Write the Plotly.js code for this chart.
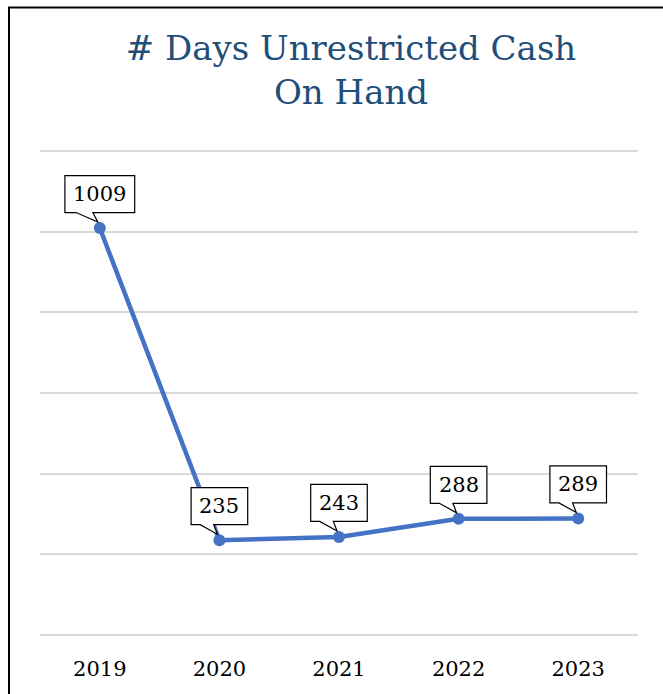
<!DOCTYPE html>
<html>
<head>
<meta charset="utf-8">
<script src="https://cdn.plot.ly/plotly-3.0.1.min.js"></script>
<style>html,body{margin:0;padding:0;background:#fff;}#chart{width:663px;height:694px;}</style>
</head>
<body>
<div id="chart"></div>
<script>
const years = ["2019", "2020", "2021", "2022", "2023"];
const cashDays = [1009, 235, 243, 288, 289];
const labels = ["1009", "235", "243", "288", "289"];
const yTicks = [0, 200, 400, 600, 800, 1000, 1200];

const W = 663, H = 694;
const M = {l: 40, r: 25, t: 147, b: 55};
const serif = '"DejaVu Serif", "Liberation Serif", serif';

const trace = {
  type: 'scatter', mode: 'lines+markers',
  x: years.map((_, i) => i), y: cashDays,
  line: {color: '#4472C4', width: 4.5},
  marker: {color: '#4472C4', size: 12},
  hoverinfo: 'skip', cliponaxis: false
};

const shapes = [];
const annotations = [];
const B = 15.5, T = 52.5;
labels.forEach((lab, i) => {
  const hw = 8.5 + lab.length * 6.6;
  const xl = -0.68 * hw, xr = -0.2 * hw;
  const path = `M ${-hw} ${B} L ${xl} ${B} L -2 6 L ${xr} ${B} L ${hw} ${B} L ${hw} ${T} L ${-hw} ${T} Z`;
  shapes.push({
    type: 'path', layer: 'above',
    xref: 'x', yref: 'y', xsizemode: 'pixel', ysizemode: 'pixel',
    xanchor: i, yanchor: cashDays[i], path: path,
    fillcolor: '#ffffff', line: {color: '#000000', width: 1.2}
  });
  annotations.push({
    x: i, y: cashDays[i], xref: 'x', yref: 'y', text: lab, showarrow: false,
    yshift: (B + T) / 2, font: {family: serif, size: 21, color: '#000'}
  });
});

// outer chart border (partly cropped)
const pw = W - M.l - M.r, ph = H - M.t - M.b;
shapes.push({
  type: 'rect', xref: 'paper', yref: 'paper', layer: 'above',
  x0: (9 - M.l) / pw, x1: (700 - M.l) / pw,
  y0: -(H + 20 - (H - M.b)) / ph, y1: ((H - M.b) - 7.5) / ph,
  line: {color: '#000000', width: 2}, fillcolor: 'rgba(0,0,0,0)'
});

const layout = {
  width: W, height: H,
  margin: M,
  paper_bgcolor: '#ffffff', plot_bgcolor: '#ffffff',
  showlegend: false,
  title: {
    text: '# Days Unrestricted Cash<br>On Hand',
    font: {family: serif, size: 34, color: '#1F4E79'},
    xref: 'container', x: 351 / W, xanchor: 'center',
    yref: 'container', y: 1 - 60 / H, yanchor: 'top'
  },
  xaxis: {
    range: [-0.5, 4.5], tickmode: 'array', tickvals: years.map((_, i) => i), ticktext: years,
    showgrid: false, zeroline: false, showline: false, ticks: '',
    ticklabelstandoff: 15,
    tickfont: {family: serif, size: 21, color: '#000'}, fixedrange: true
  },
  yaxis: {
    range: [-10, 1210], tickmode: 'array', tickvals: yTicks, showticklabels: false,
    showgrid: true, gridcolor: '#D9D9D9', gridwidth: 2,
    zeroline: false, showline: false, ticks: '', fixedrange: true
  },
  shapes: shapes,
  annotations: annotations
};

Plotly.newPlot('chart', [trace], layout, {displayModeBar: false, staticPlot: true});
</script>
</body>
</html>
